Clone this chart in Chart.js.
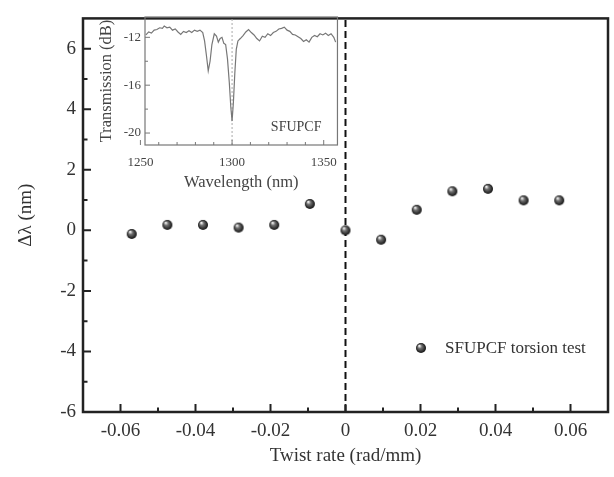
<!DOCTYPE html>
<html>
<head>
<meta charset="utf-8">
<script src="https://cdn.jsdelivr.net/npm/chart.js@4"></script>
<style>
  html, body { margin:0; padding:0; background:#fff; }
  #wrap { position:relative; width:614px; height:477px; }
  #main { position:absolute; left:0; top:0; }
  #inset { position:absolute; left:95px; top:5px; }
</style>
</head>
<body>
<div id="wrap">
  <canvas id="main" width="614" height="477"></canvas>
  <canvas id="inset" width="252" height="190"></canvas>
</div>
<script>
// main plot: torsion test
const twistRate = [-0.057, -0.0475, -0.038, -0.0285, -0.019, -0.0095, 0, 0.0095, 0.019, 0.0285, 0.038, 0.0475, 0.057];
const wavelengthShift = [-0.12, 0.18, 0.18, 0.09, 0.18, 0.87, 0, -0.31, 0.68, 1.29, 1.37, 0.99, 0.99];
const xTickValues = [-0.06, -0.04, -0.02, 0, 0.02, 0.04, 0.06];
const xMinorValues = [-0.05, -0.03, -0.01, 0.01, 0.03, 0.05];
const yTickValues = [-6, -4, -2, 0, 2, 4, 6];
const yMinorValues = [-5, -3, -1, 1, 3, 5];

// inset: transmission spectrum
const insetWavelength = [1253, 1254.5, 1256, 1257.5, 1259, 1260.5, 1262, 1263, 1264.5, 1266, 1267.5, 1269, 1270.5, 1272, 1273.5, 1275, 1276.5, 1278, 1279.5, 1281, 1282.5, 1284, 1285, 1286, 1287, 1288, 1289, 1290.3, 1291.5, 1292.5, 1293.5, 1294.5, 1295.5, 1296.5, 1297.5, 1298.5, 1299.3, 1300, 1300.7, 1301.5, 1302.3, 1303.2, 1304.5, 1306, 1307.5, 1309, 1310.5, 1312, 1313.5, 1315, 1316.5, 1318, 1319.5, 1321, 1322.5, 1324, 1325.5, 1327, 1328.5, 1330, 1331.5, 1333, 1334.5, 1336, 1337.5, 1339, 1340.5, 1342, 1343.5, 1345, 1346.5, 1348, 1349.5, 1351, 1352.5, 1354, 1355.5, 1356.5];
const insetTransmission = [-11.8, -11.55, -11.65, -11.4, -11.35, -11.2, -11.25, -11.05, -11.2, -11.15, -11.4, -11.3, -11.55, -11.75, -11.5, -11.6, -11.45, -11.6, -11.4, -11.5, -11.4, -11.6, -12.3, -13.5, -14.8, -14.0, -12.6, -11.7, -11.9, -12.4, -12.1, -12.0, -12.5, -12.6, -13.8, -15.8, -17.8, -19.0, -17.5, -15, -13, -12.3, -12.1, -11.85, -11.55, -11.35, -11.6, -11.8, -12.1, -12.3, -11.9, -12.0, -11.7, -11.85, -11.6, -11.5, -11.3, -11.25, -11.15, -11.4, -11.5, -11.75, -11.8, -11.95, -12.1, -12.35, -12.2, -12.4, -12.0, -11.85, -11.95, -11.7, -11.8, -11.65, -11.85, -11.7, -12.0, -12.4];
const insetXTicks = [1250, 1300, 1350];
const insetXMinor = [1260, 1270, 1280, 1290, 1310, 1320, 1330, 1340];
const insetYTicks = [-12, -16, -20];
const insetYMinor = [-14, -18];

const serif = "'Liberation Serif', 'DejaVu Serif', serif";

function makeBall(r) {
  const c = document.createElement("canvas");
  c.width = c.height = 2 * r + 2;
  const g = c.getContext("2d");
  const m = r + 1;
  const grad = g.createRadialGradient(m - r * 0.35, m - r * 0.45, r * 0.1, m, m, r);
  grad.addColorStop(0, "#f0f0f0");
  grad.addColorStop(0.35, "#707070");
  grad.addColorStop(1, "#101010");
  g.fillStyle = grad;
  g.beginPath();
  g.arc(m, m, r, 0, Math.PI * 2);
  g.fill();
  return c;
}
const ball = makeBall(5);

// frame + inward ticks drawn from the chart's own scales
const frameTicks = {
  id: "frameTicks",
  afterDatasetsDraw(chart, args, o) {
    const { ctx, chartArea: a, scales: { x, y } } = chart;
    ctx.save();
    ctx.strokeStyle = o.color;
    ctx.lineWidth = o.tickWidth;
    ctx.beginPath();
    const tx = (vals, len) => vals.forEach(v => {
      const px = x.getPixelForValue(v);
      ctx.moveTo(px, a.bottom); ctx.lineTo(px, a.bottom - len);
    });
    const ty = (vals, len) => vals.forEach(v => {
      const py = y.getPixelForValue(v);
      ctx.moveTo(a.left, py); ctx.lineTo(a.left + len, py);
    });
    tx(o.xMajor, o.len); tx(o.xMinor, o.minorLen);
    ty(o.yMajor, o.len); ty(o.yMinor, o.minorLen);
    ctx.stroke();
    ctx.lineWidth = o.frameWidth;
    ctx.strokeRect(a.left, a.top, a.right - a.left, a.bottom - a.top);
    ctx.restore();
  }
};

// legend in the lower right of the plot
const ballLegend = {
  id: "ballLegend",
  afterDraw(chart, args, o) {
    if (!o.text) return;
    const { ctx, chartArea: a } = chart;
    const bx = a.right - 187, by = a.bottom - 64;
    ctx.save();
    ctx.drawImage(ball, bx - ball.width / 2, by - ball.height / 2);
    ctx.fillStyle = "#333";
    ctx.font = "17px " + serif;
    ctx.textBaseline = "middle";
    ctx.fillText(o.text, bx + 24, by + 1);
    ctx.restore();
  }
};

// inset caption
const insetCaption = {
  id: "insetCaption",
  afterDraw(chart, args, o) {
    if (!o.text) return;
    const { ctx, chartArea: a } = chart;
    ctx.save();
    ctx.fillStyle = "#444";
    ctx.font = "14px " + serif;
    ctx.textAlign = "right";
    ctx.textBaseline = "middle";
    ctx.fillText(o.text, a.right - 16, a.bottom - 18);
    ctx.restore();
  }
};

new Chart(document.getElementById("main"), {
  type: "scatter",
  data: {
    datasets: [
      {
        label: "SFUPCF torsion test",
        data: twistRate.map((v, i) => ({ x: v, y: wavelengthShift[i] })),
        pointStyle: ball,
        pointRadius: 5
      },
      {
        type: "line",
        label: "zero",
        data: [{ x: 0, y: -6 }, { x: 0, y: 7 }],
        borderColor: "#111",
        borderWidth: 2,
        borderDash: [7, 4],
        pointRadius: 0
      }
    ]
  },
  options: {
    responsive: false,
    animation: false,
    devicePixelRatio: 1,
    layout: { padding: { top: 7, right: 2, left: 0, bottom: 0 } },
    plugins: {
      legend: { display: false },
      tooltip: { enabled: false },
      frameTicks: {
        color: "#222", tickWidth: 2, frameWidth: 2.5, len: 8, minorLen: 4.5,
        xMajor: xTickValues, xMinor: xMinorValues, yMajor: yTickValues, yMinor: yMinorValues
      },
      ballLegend: { text: "SFUPCF torsion test" }
    },
    scales: {
      x: {
        type: "linear", min: -0.07, max: 0.07,
        afterBuildTicks: s => { s.ticks = xTickValues.map(v => ({ value: v })); },
        afterFit: s => { s.height = 65; },
        grid: { display: false, drawTicks: false },
        border: { display: false },
        ticks: { color: "#333", padding: 8, font: { family: serif, size: 19 }, callback: v => String(v) },
        title: { display: true, text: "Twist rate (rad/mm)", color: "#333", font: { family: serif, size: 19 }, padding: { top: 0, bottom: 10 } }
      },
      y: {
        type: "linear", min: -6, max: 7,
        afterBuildTicks: s => { s.ticks = yTickValues.map(v => ({ value: v })); },
        afterFit: s => { s.width = 83; },
        grid: { display: false, drawTicks: false },
        border: { display: false },
        ticks: { color: "#333", padding: 7, font: { family: serif, size: 19 }, callback: v => String(v) },
        title: { display: true, text: "Δλ (nm)", color: "#333", font: { family: serif, size: 19 }, padding: { top: 15, bottom: 0 } }
      }
    }
  },
  plugins: [frameTicks, ballLegend]
});

new Chart(document.getElementById("inset"), {
  type: "scatter",
  data: {
    datasets: [
      {
        type: "line",
        label: "spectrum",
        data: insetWavelength.map((v, i) => ({ x: v, y: insetTransmission[i] })),
        borderColor: "#777",
        borderWidth: 1.2,
        pointRadius: 0,
        tension: 0
      },
      {
        type: "line",
        label: "marker",
        data: [{ x: 1300, y: -21 }, { x: 1300, y: -10.3 }],
        borderColor: "#aaa",
        borderWidth: 1,
        borderDash: [2, 2],
        pointRadius: 0
      }
    ]
  },
  options: {
    responsive: false,
    animation: false,
    devicePixelRatio: 1,
    layout: { padding: { top: 12, right: 4, left: 0, bottom: 0 } },
    plugins: {
      legend: { display: false },
      tooltip: { enabled: false },
      frameTicks: {
        color: "#777", tickWidth: 1, frameWidth: 1.2, len: 5, minorLen: 3,
        xMajor: insetXTicks, xMinor: insetXMinor, yMajor: insetYTicks, yMinor: insetYMinor
      },
      insetCaption: { text: "SFUPCF" }
    },
    scales: {
      x: {
        type: "linear", min: 1252.5, max: 1357.5,
        afterBuildTicks: s => { s.ticks = insetXTicks.map(v => ({ value: v })); },
        afterFit: s => { s.height = 50; },
        grid: { display: false, drawTicks: false },
        border: { display: false },
        ticks: { color: "#444", padding: 10, font: { family: serif, size: 13 }, callback: v => String(v) },
        title: { display: true, text: "Wavelength (nm)", color: "#444", font: { family: serif, size: 16.5 }, padding: { top: 0, bottom: 2 } }
      },
      y: {
        type: "linear", min: -21, max: -10.3,
        afterBuildTicks: s => { s.ticks = insetYTicks.map(v => ({ value: v })); },
        afterFit: s => { s.width = 50; },
        grid: { display: false, drawTicks: false },
        border: { display: false },
        ticks: { color: "#444", padding: 4, font: { family: serif, size: 13 }, callback: v => String(v) },
        title: { display: true, text: "Transmission (dB)", color: "#444", font: { family: serif, size: 16.5 }, padding: { top: 2, bottom: 0 } }
      }
    }
  },
  plugins: [frameTicks, insetCaption]
});
</script>
</body>
</html>
